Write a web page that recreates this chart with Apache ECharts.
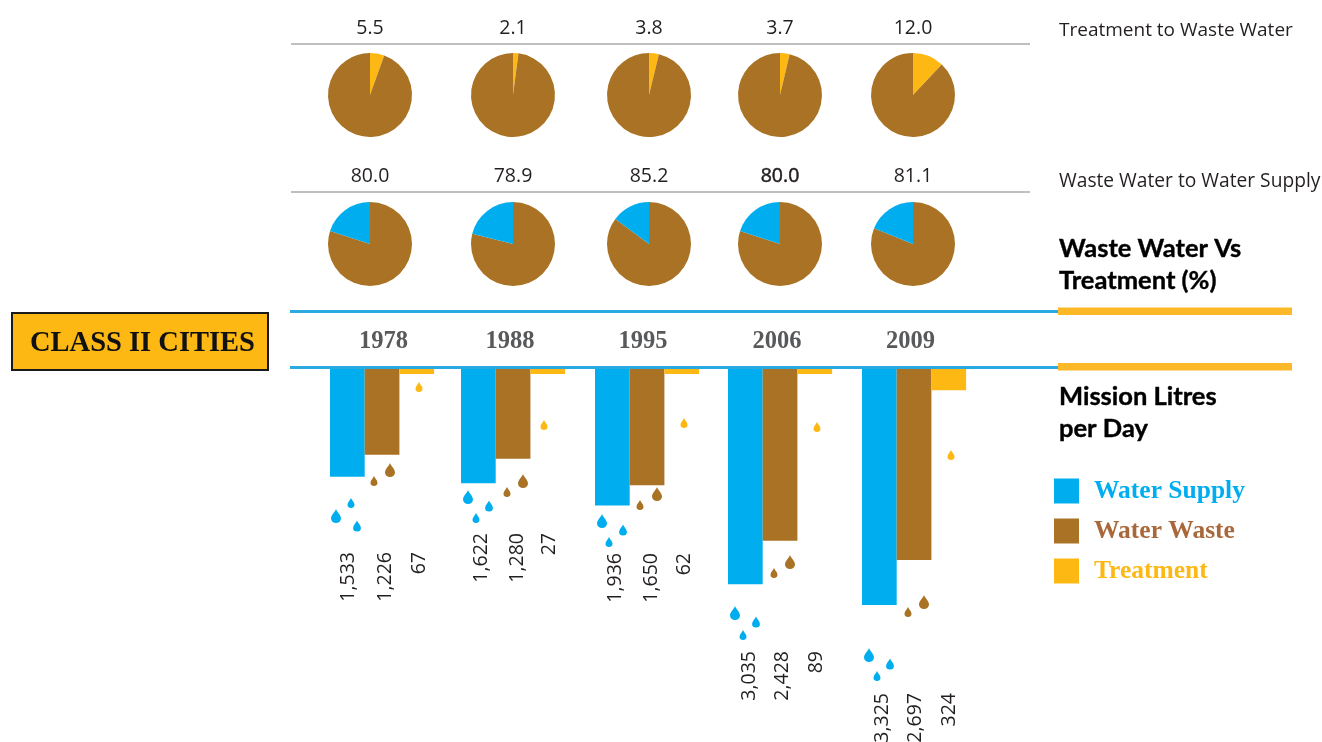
<!DOCTYPE html>
<html>
<head>
<meta charset="utf-8">
<style>html,body{margin:0;padding:0;background:#fff}#c{width:1322px;height:742px}</style>
<script src="https://cdn.jsdelivr.net/npm/echarts@6/dist/echarts.min.js"></script>
</head>
<body>
<div id="c"></div>
<script>
// ---- data ----
const years = ['1978', '1988', '1995', '2006', '2009'];
const waterSupply = [1533, 1622, 1936, 3035, 3325];
const waterWaste = [1226, 1280, 1650, 2428, 2697];
const treatment = [67, 27, 62, 89, 324];
const treatmentToWaste = [5.5, 2.1, 3.8, 3.7, 12.0];
const wasteToSupply = [80.0, 78.9, 85.2, 80.0, 81.1];
const seriesNames = ['Water Supply', 'Water Waste', 'Treatment'];

// ---- layout & style (not data) ----
const BLUE = '#00AEEF', BROWN = '#A97224', GOLD = '#FDB813';
const INK = '#231F20';
const SANS = '"Open Sans"', HEAD = 'Lato', SERIF = '"Liberation Serif"';
const colors = [BLUE, BROWN, GOLD];
const barLefts = [330, 461, 595, 728, 862];
const BAR_W = 34.7, BAR_TOP = 367, PLOT_H = 358, AXIS_MAX = 5000;
const pieCenters = [370, 513, 649, 780, 913];
const yearCenters = [383.5, 510, 643, 777, 910.5];
const labelTops = [552, 533, 553, 651, 693];
const labelXs = [[348, 385, 419], [481, 517, 549], [615, 651, 684], [749, 782, 816], [882, 915, 949]];
const dropSpots = [
  [336,516,3,0],[351,503,1,0],[357,526,2,0],[374,481,1,1],[390,470,3,1],[419,387,1,2],
  [468,497,3,0],[476,518,1,0],[489,506,2,0],[507,492,1,1],[523,481,3,1],[544,425,1,2],
  [602,521,3,0],[609,542,1,0],[623,530,2,0],[640,505,1,1],[657,494,3,1],[684,423,1,2],
  [735,613,3,0],[743,635,1,0],[756,622,2,0],[774,573,1,1],[790,562,3,1],[817,427,1,2],
  [869,655,3,0],[877,676,1,0],[890,664,2,0],[908,612,1,1],[924,602,3,1],[951,455,1,2]
];
const dropSize = {1:[7,10],2:[8,11],3:[10,14]};
const DROP = 'M5 0C6 3 10 6 10 9.5A5 4.5 0 0 1 0 9.5C0 6 4 3 5 0Z';

const columns = [waterSupply, waterWaste, treatment];
const grids = [], xAxes = [], yAxes = [], series = [], graphics = [];

function text(x, y, t, font, extra) {
  graphics.push({type:'text', x, y, z:20, silent:true,
    style:Object.assign({text:t, font, fill:INK, align:'left', verticalAlign:'middle'}, extra||{})});
}
function rect(x, y, w, h, fill, z) {
  graphics.push({type:'rect', z:z||10, silent:true, shape:{x,y,width:w,height:h}, style:{fill}});
}

years.forEach((yr, g) => {
  grids.push({left:barLefts[g], top:BAR_TOP, width:BAR_W*3, height:PLOT_H});
  const dx = yearCenters[g] - (barLefts[g] + BAR_W*1.5);
  xAxes.push({type:'category', gridIndex:g, position:'top', data:[yr],
    axisLine:{show:false}, axisTick:{show:false},
    axisLabel:{margin:13, color:'#58595B', fontFamily:SERIF, fontWeight:'bold', fontSize:24.5,
      padding: dx > 0 ? [0,0,0,2*dx] : [0,-2*dx,0,0]}});
  yAxes.push({type:'value', gridIndex:g, inverse:true, min:0, max:AXIS_MAX, show:false, splitLine:{show:false}});
  columns.forEach((col, i) => {
    const barX = barLefts[g] + i*BAR_W;
    series.push({type:'bar', name:seriesNames[i], xAxisIndex:g, yAxisIndex:g,
      barWidth:BAR_W, barGap:0, barMinHeight:7, silent:true, animation:false,
      itemStyle:{color:colors[i]},
      data:[{value:col[g], label:{show:true, rotate:90,
        position:[labelXs[g][i]-barX, labelTops[g]-BAR_TOP],
        align:'right', verticalAlign:'middle',
        formatter:p=>p.value.toLocaleString('en-US'),
        color:INK, fontFamily:SANS, fontSize:19.5}}]});
  });
  // pies
  const pie = (cy, data) => series.push({type:'pie', center:[pieCenters[g], cy], radius:[0,42],
    startAngle:90, clockwise:true, silent:true, animation:false, label:{show:false}, labelLine:{show:false},
    data});
  pie(95, [
    {name:'Treatment', value:treatmentToWaste[g], itemStyle:{color:GOLD}},
    {name:'Water Waste', value:100-treatmentToWaste[g], itemStyle:{color:BROWN}}]);
  pie(244, [
    {name:'Water Waste', value:wasteToSupply[g], itemStyle:{color:BROWN}},
    {name:'Water Supply', value:100-wasteToSupply[g], itemStyle:{color:BLUE}}]);
  text(pieCenters[g], 28, treatmentToWaste[g].toFixed(1), '19.5px '+SANS, {align:'center'});
  text(pieCenters[g], 176, wasteToSupply[g].toFixed(1), '19.5px '+SANS,
    g === 3 ? {align:'center', stroke:INK, lineWidth:0.5} : {align:'center'});
});

// droplets
series.push({type:'custom', coordinateSystem:'none', silent:true, animation:false, z:5, data:dropSpots,
  renderItem:(p, api) => {
    const [w,h] = dropSize[api.value(2)];
    return {type:'path',
      shape:{pathData:DROP, layout:'center', x:api.value(0)-w/2, y:api.value(1)-h/2, width:w, height:h},
      style:{fill:colors[api.value(3)]}};
  }});

// rules
rect(291, 43, 739, 2, '#BFBFBF');
rect(291, 191, 739, 2, '#BFBFBF');
rect(290, 310, 768, 3, '#29ABE2');
rect(290, 366, 768, 3, '#29ABE2');
rect(1058, 307.5, 234, 7.5, '#FDB827');
rect(1058, 363, 234, 7.5, '#FDB827');

// badge
graphics.push({type:'rect', z:10, silent:true, shape:{x:12,y:313,width:256,height:57},
  style:{fill:GOLD, stroke:'#1a1a1a', lineWidth:2}});
text(142.5, 344, 'CLASS II CITIES', 'bold 28.5px '+SERIF, {align:'center', fill:'#111'});

// side captions
const headStyle = {fill:'#000', stroke:'#000', lineWidth:0.4};
text(1059, 31, 'Treatment to Waste Water', '19px '+SANS);
text(1059, 182, 'Waste Water to Water Supply', '19.2px '+SANS);
text(1059, 249, 'Waste Water Vs', 'bold 25.5px '+HEAD, headStyle);
text(1059, 281, 'Treatment (%)', 'bold 25.5px '+HEAD, headStyle);
text(1059, 397, 'Mission Litres', 'bold 25.5px '+HEAD, headStyle);
text(1059, 429, 'per Day', 'bold 25.5px '+HEAD, headStyle);

const chart = echarts.init(document.getElementById('c'), null, {renderer:'canvas'});
chart.setOption({
  animation:false,
  grid:grids, xAxis:xAxes, yAxis:yAxes, series,
  legend:{orient:'vertical', left:1054, top:478, padding:0, itemWidth:25, itemHeight:25, itemGap:14, selectedMode:false,
    icon:'rect',
    data:[
      {name:'Water Supply', textStyle:{color:BLUE}},
      {name:'Water Waste', textStyle:{color:'#A9683A'}},
      {name:'Treatment', textStyle:{color:GOLD}}],
    textStyle:{fontFamily:SERIF, fontWeight:'bold', fontSize:25.5, padding:[0,0,0,10]}},
  graphic:graphics
});
</script>
</body>
</html>
